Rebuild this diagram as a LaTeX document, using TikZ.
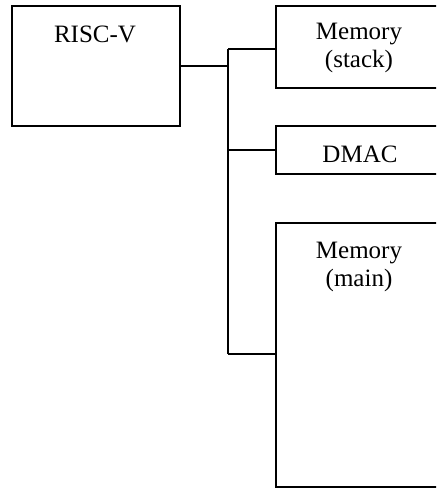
\documentclass[tikz,border=0pt]{standalone}
\usepackage{fontspec}
\setmainfont{Liberation Serif}
\begin{document}
\begin{tikzpicture}[x=1pt,y=-1pt,
  box/.style={draw=black,line width=2.2pt,rectangle,inner sep=0pt},
  lbl/.style={inner sep=0pt,align=center,font=\fontsize{25}{28}\selectfont},
  conn/.style={draw=black,line width=2.2pt}]
\useasboundingbox (0,0) rectangle (436,489);
\clip (0,0) rectangle (436,489);
% boxes
\node[box,minimum width=168pt,minimum height=120pt] (risc) at (96,66) {};
\node[box,minimum width=220pt,minimum height=82pt] (stack) at (386,47) {};
\node[box,minimum width=220pt,minimum height=48pt] (dmac) at (386,150) {};
\node[box,minimum width=220pt,minimum height=264pt] (main) at (386,355) {};
% labels
\node[lbl,anchor=base] (trisc) at (95,42.5) {RISC-V};
\node[lbl,anchor=north] (tstack) at (359,23) {Memory\\(stack)};
\node[lbl,anchor=base] (tdmac) at (360,162.5) {DMAC};
\node[lbl,anchor=north] (tmain) at (359,241.5) {Memory\\(main)};
% bus
\coordinate (b1) at (228,48.7);
\coordinate (b3) at (228,354.3);
\draw[conn] (b1) -- (b3);
\draw[conn] (risc.east) -- (risc.east -| b1);
\draw[conn] (b1) -- (b1 -| stack.west);
\draw[conn] (dmac.west -| b1) -- (dmac.west);
\draw[conn] (b3) -- (b3 -| main.west);
\end{tikzpicture}
\end{document}
